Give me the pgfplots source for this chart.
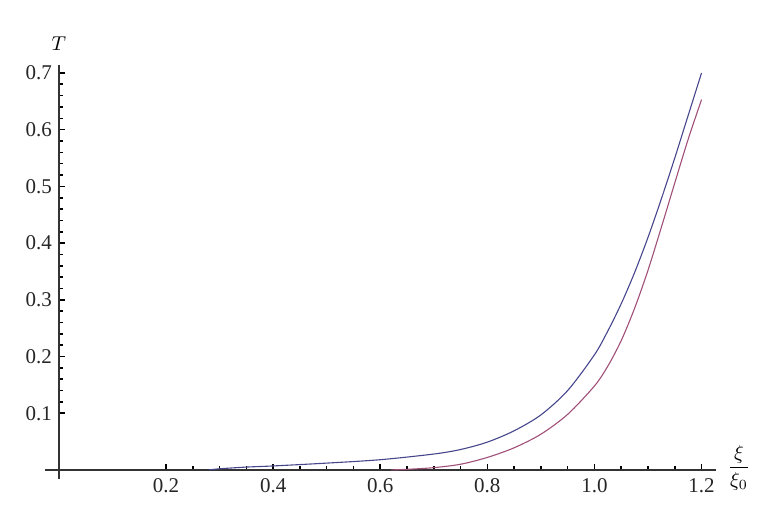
\documentclass[border=0pt]{standalone}
\usepackage{fontspec}
\setmainfont{Liberation Serif}
\usepackage{pgfplots}
\pgfplotsset{compat=1.18}

\definecolor{mmablue}{RGB}{70,70,140}
\definecolor{mmared}{RGB}{160,80,120}

\begin{document}
\begin{tikzpicture}
% page = 783 x 528 px at 0.5pt per px; axis box starts at px (45,479)
\useasboundingbox (-22.5pt,-24.5pt) rectangle (369pt,239.5pt);
\begin{axis}[
  scale only axis,
  width=335.5pt, height=207pt,
  xmin=-0.026, xmax=1.227,
  ymin=-0.016, ymax=0.714,
  axis lines=middle,
  axis line style={-, line width=0.8pt, black!80},
  every inner x axis line/.append style={-},
  every inner y axis line/.append style={-},
  xtick={0.2,0.4,...,1.21},
  ytick={0.1,0.2,...,0.71},
  minor x tick num=3,
  minor y tick num=4,
  tick align=inside,
  major tick length=3.2pt,
  minor tick length=2pt,
  every tick/.style={black, line width=0.8pt},
  /pgf/number format/assume math mode=true,
  /pgf/number format/fixed,
  /pgf/number format/fixed zerofill,
  /pgf/number format/precision=1,
  ticklabel style={font=\fontsize{10.5}{12}\selectfont, text=black!85},
  xticklabel style={yshift=-1pt},
  clip=false,
]
% upper curve (blue)
\addplot[mmablue, line width=0.55pt, smooth] coordinates {
  (0.28,0.000) (0.30,0.002) (0.35,0.005) (0.40,0.007) (0.50,0.012)
  (0.60,0.018) (0.70,0.028) (0.75,0.036) (0.80,0.049) (0.85,0.069)
  (0.90,0.097) (0.95,0.140) (1.00,0.203) (1.025,0.245) (1.05,0.293)
  (1.075,0.348) (1.10,0.410) (1.125,0.478) (1.15,0.550) (1.175,0.625)
  (1.20,0.700)
};
% lower curve (red)
\addplot[mmared, line width=0.55pt, smooth] coordinates {
  (0.62,0.000) (0.65,0.001) (0.70,0.004) (0.75,0.010) (0.80,0.022)
  (0.85,0.039) (0.90,0.063) (0.95,0.098) (1.00,0.148) (1.025,0.183)
  (1.05,0.228) (1.075,0.285) (1.10,0.352) (1.125,0.428) (1.15,0.506)
  (1.175,0.583) (1.20,0.653)
};
\node at (axis cs:0,0.752) {$T$};
\node at (axis cs:1.27,0.004) {$\displaystyle\frac{\xi}{\xi_0}$};
\end{axis}
\end{tikzpicture}
\end{document}
